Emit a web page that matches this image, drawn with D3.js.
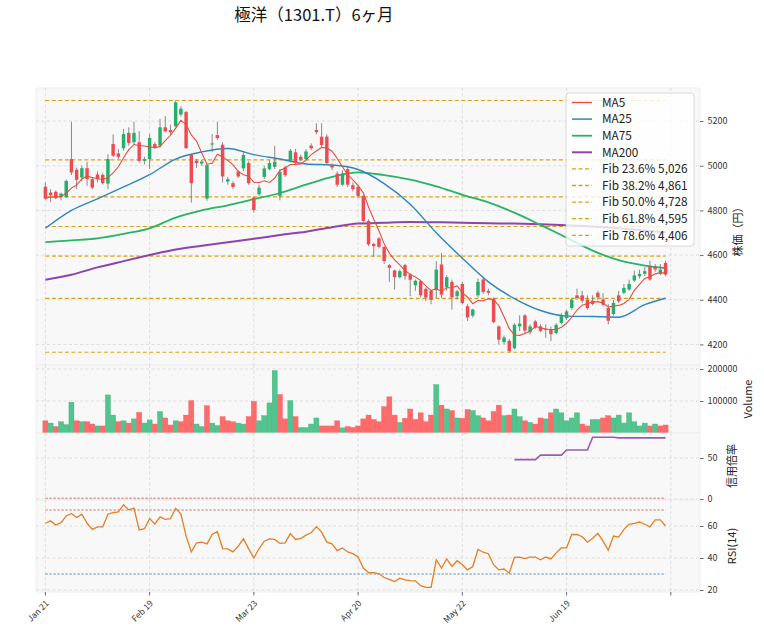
<!DOCTYPE html>
<html><head><meta charset="utf-8">
<script src="https://cdn.jsdelivr.net/npm/d3@7"></script>
<style>
body{margin:0;background:#fff;}
text{font-family:"Noto Sans CJK JP","Noto Sans",sans-serif;}
</style>
</head><body>
<svg id="c" width="764" height="635"></svg>
<script>
// ---------------- data ----------------
const title = "極洋（1301.T）6ヶ月";
const tickIdx = [0,20,40,60,80,100,120];
const tickLabels = ["Jan 21","Feb 19","Mar 23","Apr 20","May 22","Jun 19",""];

const opens = [4906,4880,4883,4860,4860,5030,4982,4947,4989,4940,
4961,4959,4920,5097,5055,5078,5147,5105,5105,5022,
5030,5097,5090,5172,5160,5177,5229,5240,5049,5022,
5010,4853,5095,5137,5094,4929,4922,4974,4988,5012,
4858,4872,4950,4985,4995,4865,4992,5022,5060,5040,
5030,5090,5160,5130,5130,5003,4965,4915,4985,4913,
4905,4865,4753,4650,4675,4636,4555,4531,4501,4555,
4513,4465,4483,4449,4440,4443,4558,4456,4480,4416,
4471,4371,4329,4420,4491,4440,4405,4281,4210,4216,
4183,4281,4330,4255,4303,4281,4270,4269,4251,4296,
4318,4363,4420,4420,4401,4396,4431,4401,4363,4336,
4420,4431,4446,4486,4505,4516,4548,4548,4516,4565];
const highs = [4925,4895,4890,4880,4938,5197,4992,5000,5018,4948,
4975,4968,5052,5140,5075,5165,5172,5197,5155,5040,
5142,5105,5210,5222,5185,5292,5266,5245,5052,5030,
5025,5008,5142,5197,5105,4950,4930,4980,5060,5020,
4862,4915,5000,5025,5090,4985,5000,5075,5075,5050,
5075,5100,5190,5190,5140,5010,4975,4980,5000,4925,
4915,4870,4760,4655,4680,4640,4560,4535,4535,4560,
4520,4490,4490,4455,4445,4573,4610,4510,4490,4445,
4480,4380,4360,4495,4500,4450,4410,4285,4240,4225,
4295,4330,4335,4290,4310,4290,4290,4280,4295,4340,
4355,4410,4450,4440,4420,4420,4440,4430,4380,4400,
4440,4470,4490,4530,4535,4545,4575,4560,4560,4575];
const lows = [4848,4838,4850,4845,4855,4958,4895,4930,4910,4895,
4925,4915,4895,5040,5030,5068,5090,5095,5015,5005,
4985,5075,5080,5150,5135,5172,5220,5075,4835,4990,
5000,4843,5060,5115,4925,4915,4895,4945,4975,4915,
4790,4865,4940,4980,4985,4845,4950,5015,5005,5020,
5025,5070,5140,5085,5005,4980,4905,4910,4905,4885,
4855,4745,4640,4592,4630,4560,4480,4446,4495,4490,
4416,4440,4410,4395,4380,4408,4408,4440,4356,4400,
4380,4305,4320,4410,4425,4420,4295,4200,4200,4165,
4178,4260,4250,4245,4270,4255,4230,4215,4245,4290,
4310,4355,4400,4385,4355,4375,4400,4370,4290,4330,
4385,4425,4440,4480,4495,4505,4485,4525,4510,4505];
const closes = [4853,4868,4855,4875,4932,4970,4937,4989,4940,4902,
4940,4922,5030,5045,5040,5142,5102,5147,5022,5030,
5124,5082,5172,5154,5150,5284,5255,5079,4922,5012,
5019,5003,5100,5124,4952,4940,4905,4952,5048,4922,
4802,4902,4988,5012,5018,4973,4958,5067,5012,5027,
5064,5078,5150,5093,5012,4992,4915,4965,4915,4895,
4865,4753,4648,4640,4637,4573,4543,4501,4528,4506,
4490,4485,4420,4410,4400,4535,4423,4501,4411,4438,
4386,4321,4356,4480,4435,4432,4300,4221,4231,4170,
4288,4293,4262,4281,4276,4261,4266,4246,4288,4326,
4348,4401,4408,4396,4363,4381,4411,4378,4306,4386,
4393,4453,4471,4509,4516,4528,4491,4536,4535,4513];
const volumes = [38000,31000,20000,35000,26000,96000,38000,35000,35000,28000,
22000,22000,119000,56000,35000,38000,31000,44000,64000,31000,
41000,28000,67000,47000,25000,38000,35000,56000,101000,28000,
20000,85000,31000,23000,51000,38000,35000,31000,28000,51000,
99000,38000,54000,94000,195000,120000,44000,101000,51000,17000,
17000,28000,47000,22000,22000,22000,38000,16000,20000,17000,
22000,44000,56000,42000,35000,82000,113000,56000,33000,46000,
75000,42000,63000,35000,56000,151000,87000,75000,70000,47000,
46000,73000,70000,54000,47000,38000,67000,87000,54000,56000,
75000,51000,38000,33000,28000,47000,44000,63000,75000,63000,
38000,47000,63000,28000,22000,42000,42000,47000,54000,47000,
56000,31000,63000,35000,22000,31000,22000,28000,22000,25000];

// moving averages at every 5th session
const maIdx = [0,5,10,15,20,25,30,35,40,45,50,55,60,65,70,75,80,85,90,95,100,105,110,115,119];
const ma25 = [4720,4800,4852,4905,4960,5030,5062,5077,5050,5030,5008,5003,4983,4920,4828,4700,4586,4480,4405,4352,4327,4325,4322,4378,4407];
const ma75 = [4658,4666,4675,4695,4720,4768,4800,4823,4850,4878,4915,4950,4970,4958,4938,4908,4870,4836,4790,4735,4678,4620,4577,4553,4542];
const ma200 = [4490,4512,4545,4573,4600,4625,4642,4658,4673,4690,4705,4725,4741,4745,4748,4747,4745,4742,4741,4738,4734,4728,4720,4710,4702];

const rsi = [61.7,63.2,60.6,62.1,66.3,67.8,65.3,67.4,61.7,57.9,
59.4,59.4,67.4,68.4,68.8,73.3,70.1,71.2,57.5,58.3,
64.6,61.3,65.7,64.2,64.6,71.0,67.4,53.7,43.8,49.5,
49.9,48.8,54.7,56.4,45.9,45.7,43.8,47.4,52.0,45.7,
40.0,45.9,50.5,52.0,51.6,49.1,49.5,55.2,51.6,52.2,
54.3,55.8,59.6,56.2,49.9,48.8,44.6,46.3,43.8,42.7,
40.6,33.7,30.9,30.9,30.1,27.8,26.7,25.3,27.4,26.3,
25.9,25.7,22.7,21.7,21.7,38.9,33.7,39.4,34.7,38.3,
35.8,32.6,34.7,45.3,43.6,42.7,35.8,32.6,33.1,30.5,
40.4,40.6,39.6,40.6,40.6,38.9,40.6,39.4,43.2,46.3,
46.3,54.7,54.7,53.3,49.9,52.4,55.4,50.5,44.8,53.7,
53.1,57.9,61.1,61.7,62.5,61.1,59.4,63.8,63.8,60.0];

const marginStart = 90;
const marginRatio = [48.0,48.0,48.0,48.0,48.0,53.5,53.5,53.5,53.5,53.5,
59.8,59.8,59.8,59.8,59.8,75.4,75.4,75.4,75.4,75.4,
74.6,74.6,74.6,74.6,74.6,74.6,74.6,74.6,74.6,74.6];

const fibNames = ["Fib 0%","Fib 23.6%","Fib 38.2%","Fib 50.0%","Fib 61.8%","Fib 78.6%","Fib 100%"];
const fibLevels = [5292,5026,4861,4728,4595,4406,4165];

const priceTicks = [4200,4400,4600,4800,5000,5200];
const volTicks = [100000,200000];
const marginTicks = [0,50];
const rsiTicks = [20,40,60];

// ---------------- layout ----------------
const svg = d3.select("#c");
const L = 36, R = 700;
const n = closes.length;
const x = d3.scaleLinear().domain([-1.8,125.6]).range([L,R]);
const step = x(1)-x(0);

const P = {price:[88,365], vol:[365,433], margin:[433,500], rsi:[500,592]};
const yP = d3.scaleLinear().domain([4108,5348]).range([P.price[1],P.price[0]]);
const yV = d3.scaleLinear().domain([0,212500]).range([P.vol[1],P.vol[0]]);
const yM = d3.scaleLinear().domain([-1.2,80.5]).range([P.margin[1],P.margin[0]]);
const yR = d3.scaleLinear().domain([18.75,76.25]).range([P.rsi[1],P.rsi[0]]);

const C = {up:"#22b06c", down:"#ef4a50", vup:"#52c48e", vdown:"#ff6b6b",
  ma5:"#e74c3c", ma25:"#2e86c1", ma75:"#28b463", ma200:"#8e44ad", fib:"#d9a21b",
  rsi:"#e67e22", grid:"#d2d2d2", bg:"#f8f8f8"};

function panel(key, yScale, ticks){
  const [t,b] = P[key];
  const g = svg.append("g");
  g.append("rect").attr("x",L).attr("y",t).attr("width",R-L).attr("height",b-t)
    .attr("fill",C.bg).attr("stroke","#ececec").attr("stroke-width",0.8);
  g.append("defs").append("clipPath").attr("id","clip-"+key)
    .append("rect").attr("x",L).attr("y",t).attr("width",R-L).attr("height",b-t);
  g.selectAll(null).data(tickIdx).join("line")
    .attr("x1",d=>x(d)).attr("x2",d=>x(d)).attr("y1",t).attr("y2",b)
    .attr("stroke",C.grid).attr("stroke-width",0.7).attr("stroke-dasharray","3,2.5");
  g.selectAll(null).data(ticks).join("line")
    .attr("x1",L).attr("x2",R).attr("y1",d=>yScale(d)).attr("y2",d=>yScale(d))
    .attr("stroke",C.grid).attr("stroke-width",0.7).attr("stroke-dasharray","3,2.5");
  const ax = d3.axisRight(yScale).tickValues(ticks).tickSize(3.5).tickPadding(4).tickFormat(d=>String(d));
  const ag = svg.append("g").attr("transform",`translate(${R},0)`).call(ax);
  ag.select(".domain").remove();
  ag.selectAll("line").attr("stroke","#444").attr("stroke-width",0.8);
  ag.selectAll("text").attr("font-size",9).attr("fill","#333")
    .attr("font-family",'"Noto Sans CJK JP","Noto Sans",sans-serif');
  return g.append("g").attr("clip-path",`url(#clip-${key})`);
}

// ---------------- price panel ----------------
const gp = panel("price", yP, priceTicks);
gp.selectAll(null).data(fibLevels).join("line")
  .attr("x1",x(0)).attr("x2",x(n-1)).attr("y1",d=>yP(d)).attr("y2",d=>yP(d))
  .attr("stroke",C.fib).attr("stroke-width",1.2).attr("stroke-dasharray","4,2.5");
const maLine = arr => d3.line().x((d,i)=>x(maIdx[i])).y(d=>yP(d)).curve(d3.curveMonotoneX)(arr);
gp.append("path").attr("d",maLine(ma200)).attr("fill","none").attr("stroke",C.ma200).attr("stroke-width",2);
gp.append("path").attr("d",maLine(ma75)).attr("fill","none").attr("stroke",C.ma75).attr("stroke-width",1.8);
gp.append("path").attr("d",maLine(ma25)).attr("fill","none").attr("stroke",C.ma25).attr("stroke-width",1.4);
const cw = step*0.66;
const idx = d3.range(n);
gp.selectAll(null).data(idx).join("line")
  .attr("x1",i=>x(i)).attr("x2",i=>x(i)).attr("y1",i=>yP(highs[i])).attr("y2",i=>yP(lows[i]))
  .attr("stroke","#6e6e6e").attr("stroke-width",0.8);
gp.selectAll(null).data(idx).join("rect")
  .attr("x",i=>x(i)-cw/2).attr("width",cw)
  .attr("y",i=>yP(Math.max(opens[i],closes[i])))
  .attr("height",i=>Math.max(0.8,Math.abs(yP(opens[i])-yP(closes[i]))))
  .attr("fill",i=>closes[i]>=opens[i]?C.up:C.down);
// MA5 derived from the closes
const ma5 = idx.map(i=>d3.mean(closes.slice(Math.max(0,i-4),i+1)));
gp.append("path").attr("d",d3.line().x((d,i)=>x(i)).y(d=>yP(d))(ma5))
  .attr("fill","none").attr("stroke",C.ma5).attr("stroke-width",1.1);

// legend
const lg = svg.append("g");
const legItems = [
  {name:"MA5",c:C.ma5,w:1.3,dash:null},{name:"MA25",c:C.ma25,w:1.5,dash:null},
  {name:"MA75",c:C.ma75,w:1.8,dash:null},{name:"MA200",c:C.ma200,w:2,dash:null}
].concat(fibLevels.slice(1,6).map((v,k)=>({name:`${fibNames[k+1]} ${d3.format(",")(v)}`,c:C.fib,w:1.3,dash:"4,2.5"})));
lg.append("rect").attr("x",566).attr("y",93).attr("width",128).attr("height",153).attr("rx",3)
  .attr("fill","rgba(255,255,255,0.8)").attr("stroke","#d0d0d0").attr("stroke-width",0.8);
legItems.forEach((d,k)=>{
  const yy = 102.5 + k*16.6;
  lg.append("line").attr("x1",572).attr("x2",592).attr("y1",yy).attr("y2",yy)
    .attr("stroke",d.c).attr("stroke-width",d.w).attr("stroke-dasharray",d.dash);
  lg.append("text").attr("x",602).attr("y",yy+4.2).attr("font-size",11.8).attr("fill","#222").text(d.name);
});

// ---------------- volume panel ----------------
const gv = panel("vol", yV, volTicks);
const vw = step*0.96;
const volUp = i => i===0 ? closes[0]>=opens[0] : closes[i]>=closes[i-1];
gv.selectAll(null).data(idx).join("rect")
  .attr("x",i=>x(i)-vw/2).attr("width",vw)
  .attr("y",i=>yV(volumes[i])).attr("height",i=>yV(0)-yV(volumes[i]))
  .attr("fill",i=>volUp(i)?C.vup:C.vdown)
  .attr("stroke",i=>volUp(i)?"#3fb07a":"#ee5a5a")
  .attr("stroke-width",0.4);

// ---------------- margin panel ----------------
const gm = panel("margin", yM, marginTicks);
gm.append("line").attr("x1",x(0)).attr("x2",x(n-1)).attr("y1",yM(1)).attr("y2",yM(1))
  .attr("stroke","#e74c3c").attr("stroke-width",0.8).attr("stroke-dasharray","2.5,1.5");
gm.append("path").attr("d",d3.line().x((d,i)=>x(marginStart+i)).y(d=>yM(d))(marginRatio))
  .attr("fill","none").attr("stroke","#9b59b6").attr("stroke-width",1.6);

// ---------------- RSI panel ----------------
const gr = panel("rsi", yR, rsiTicks);
gr.append("line").attr("x1",x(0)).attr("x2",x(n-1)).attr("y1",yR(70)).attr("y2",yR(70))
  .attr("stroke","#e74c3c").attr("stroke-width",0.8).attr("stroke-dasharray","2.5,1.5");
gr.append("line").attr("x1",x(0)).attr("x2",x(n-1)).attr("y1",yR(30)).attr("y2",yR(30))
  .attr("stroke","#2e86c1").attr("stroke-width",0.8).attr("stroke-dasharray","2.5,1.5");
gr.append("path").attr("d",d3.line().x((d,i)=>x(i)).y(d=>yR(d))(rsi))
  .attr("fill","none").attr("stroke",C.rsi).attr("stroke-width",1.3);

// ---------------- bottom axis ----------------
const xb = svg.append("g");
tickIdx.forEach((t,k)=>{
  xb.append("line").attr("x1",x(t)).attr("x2",x(t)).attr("y1",P.rsi[1]).attr("y2",P.rsi[1]+3.5)
    .attr("stroke","#444").attr("stroke-width",0.8);
  xb.append("text").attr("transform",`translate(${x(t)+4},${P.rsi[1]+12}) rotate(-45)`)
    .attr("text-anchor","end").attr("font-size",8.5).attr("fill","#333").text(tickLabels[k]);
});

// ---------------- axis labels & title ----------------
const ylab = (txt,cx,cy)=>svg.append("text").attr("transform",`translate(${cx},${cy}) rotate(-90)`)
  .attr("text-anchor","middle").attr("font-size",11).attr("fill","#222").text(txt);
ylab("株価（円）",742,229);
ylab("Volume",752,399);
ylab("信用倍率",736,466);
ylab("RSI(14)",736,546);

svg.append("text").attr("x",314).attr("y",21).attr("text-anchor","middle")
  .attr("font-size",16.5).attr("fill","#111").text(title);
</script>
</body></html>
